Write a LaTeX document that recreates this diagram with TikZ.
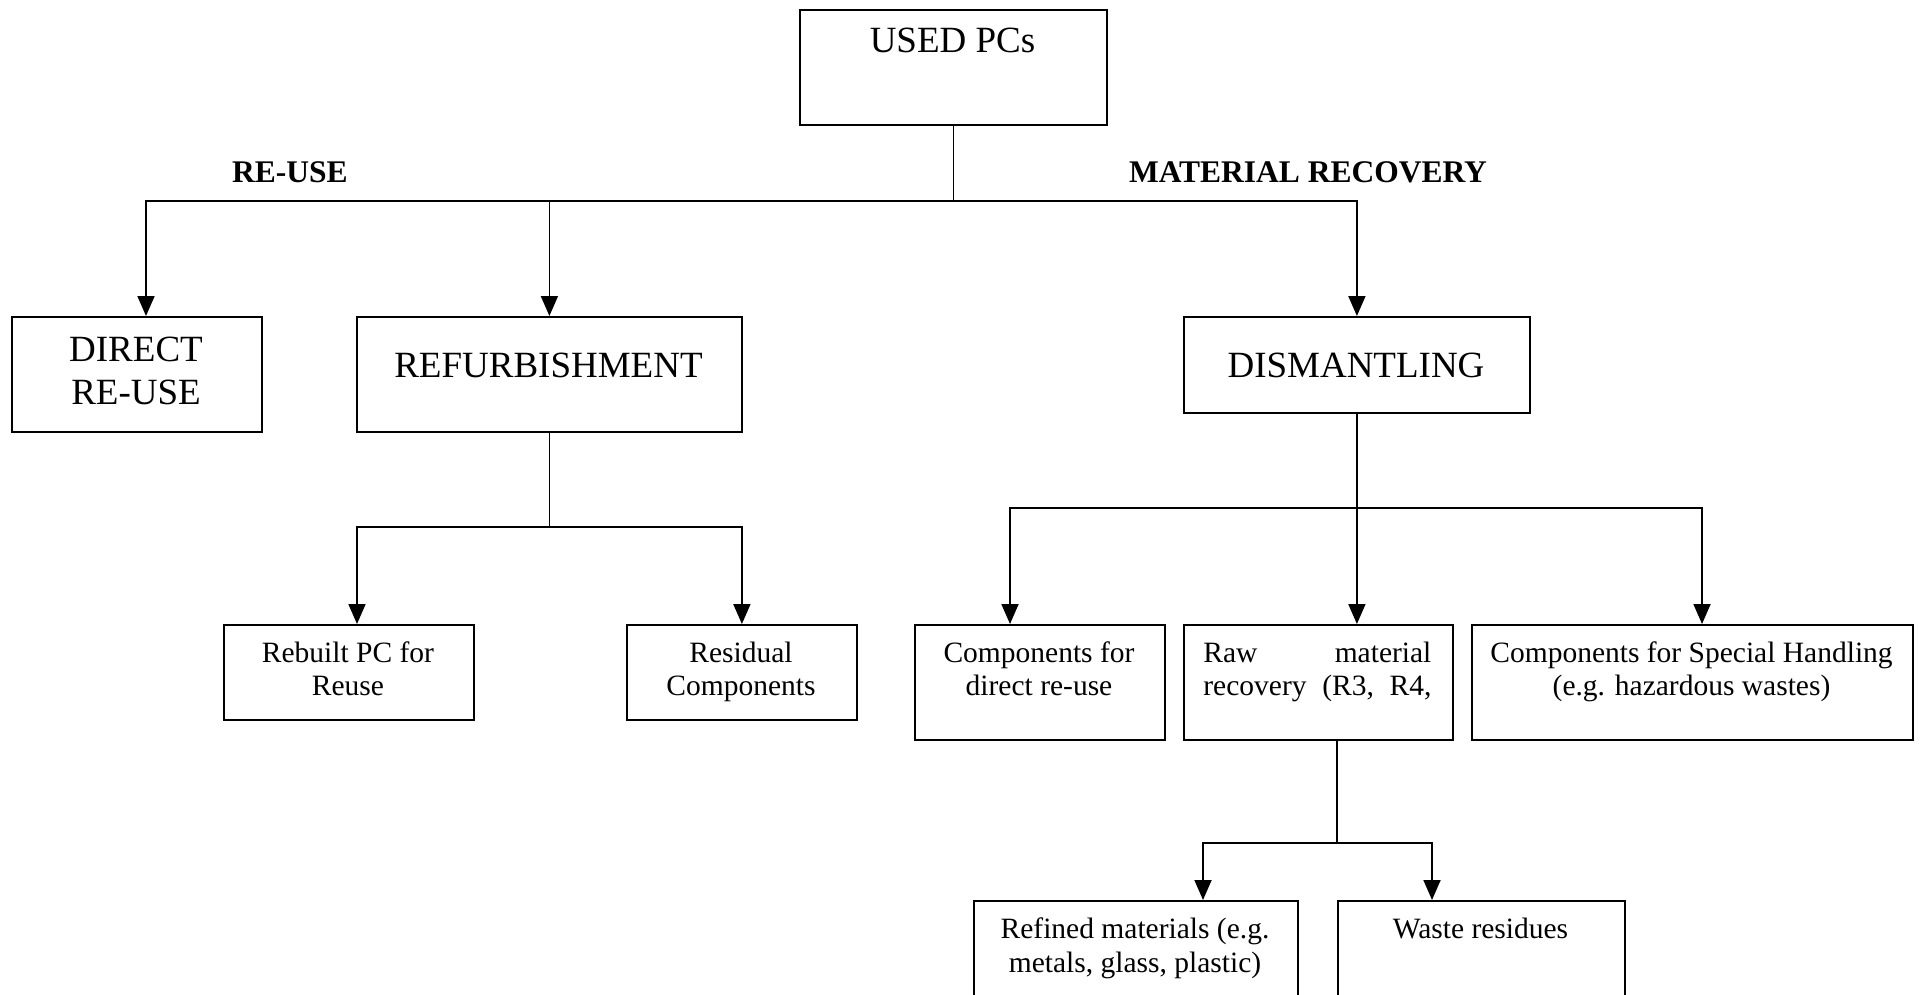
\documentclass[tikz,border=0pt]{standalone}
\usepackage{fontspec}
\setmainfont{Liberation Serif}
\usetikzlibrary{arrows.meta}
\begin{document}
\begin{tikzpicture}[x=0.5pt,y=-0.5pt,
  box/.style={draw,line width=0.9pt,inner sep=0pt,anchor=north west},
  big/.style={font=\fontsize{18.5}{21.5}\selectfont,inner sep=0pt,anchor=base,align=center},
  small/.style={font=\fontsize{14.75}{16.5}\selectfont,inner sep=0pt,anchor=base,align=center},
  lbl/.style={font=\fontsize{15.75}{18}\selectfont\bfseries,inner sep=0pt,anchor=base},
  conn/.style={line width=0.9pt},
  arr/.style={line width=0.9pt,-{Triangle[length=10pt,width=8.5pt]}}]
\useasboundingbox (0,0) rectangle (1921,995);
\clip (0,0) rectangle (1921,995);
\fill[white] (0,0) rectangle (1921,995);
% boxes
\node[box,minimum width=153.5pt,minimum height=57.5pt] (usedpcs) at (799,9) {};
\node[box,minimum width=125pt,minimum height=57.5pt] (direct) at (11,316) {};
\node[box,minimum width=192.5pt,minimum height=57.5pt] (refurb) at (356,316) {};
\node[box,minimum width=173pt,minimum height=48pt] (dismant) at (1183,316) {};
\node[box,minimum width=125pt,minimum height=47.5pt] (rebuilt) at (223,624) {};
\node[box,minimum width=115pt,minimum height=47.5pt] (residual) at (626,624) {};
\node[box,minimum width=125pt,minimum height=57.5pt] (compdirect) at (914,624) {};
\node[box,minimum width=134.5pt,minimum height=57.5pt] (raw) at (1183,624) {};
\node[box,minimum width=220.5pt,minimum height=57.5pt] (special) at (1471,624) {};
\node[box,minimum width=162pt,minimum height=60pt] (refined) at (973,900) {};
\node[box,minimum width=143.5pt,minimum height=60pt] (waste) at (1337,900) {};
% texts (multi-line nodes are placed by the baseline of their last line)
\node[big] (t-used) at (952.5,53) {USED PCs};
\node[big] (t-direct) at (136,404) {DIRECT\\RE-USE};
\node[big] (t-refurb) at (548.5,377) {REFURBISHMENT};
\node[big] (t-dismant) at (1356,377) {DISMANTLING};
\node[lbl] (l-reuse) at (290,182) {RE-USE};
\node[lbl] (l-mat) at (1308,182) {MATERIAL RECOVERY};
\node[small] (t-rebuilt) at (348,695) {Rebuilt PC for\\Reuse};
\node[small] (t-residual) at (741,695) {Residual\\Components};
\node[small] (t-compdirect) at (1039,695) {Components for\\direct re-use};
\node[small,anchor=base west,text width=114pt,align=left] (t-raw) at (1203,662) {Raw\hfill material\\recovery\hfill(R3,\hfill R4,};
\node[small] (t-special) at (1691.5,695) {Components for Special Handling\\(e.g. hazardous wastes)};
\node[small] (t-refined) at (1135,972) {Refined materials (e.g.\\[0.5pt]metals, glass, plastic)};
\node[small] (t-waste) at (1480.5,938) {Waste residues};
% connectors
\coordinate (j0) at (usedpcs.south |- 0,201);
\draw[conn] (usedpcs.south) -- (j0);
\draw[arr] (j0) -| (direct.north -| 146,0);
\draw[arr] (j0) -| (refurb.north);
\draw[arr] (j0) -| (dismant.north);
\coordinate (j1) at (refurb.south |- 0,527);
\draw[conn] (refurb.south) -- (j1);
\draw[arr] (j1) -| (rebuilt.north -| 357,0);
\draw[arr] (j1) -| (residual.north);
\coordinate (j2) at (dismant.south |- 0,508);
\draw[arr] (dismant.south) -- (raw.north -| dismant.south);
\draw[arr] (j2) -| (compdirect.north -| 1010,0);
\draw[arr] (j2) -| (special.north -| 1702,0);
\coordinate (j3) at (1337,843);
\draw[conn] (raw.south -| j3) -- (j3);
\draw[arr] (j3) -| (refined.north -| 1203,0);
\draw[arr] (j3) -| (waste.north -| 1432,0);
\end{tikzpicture}
\end{document}
